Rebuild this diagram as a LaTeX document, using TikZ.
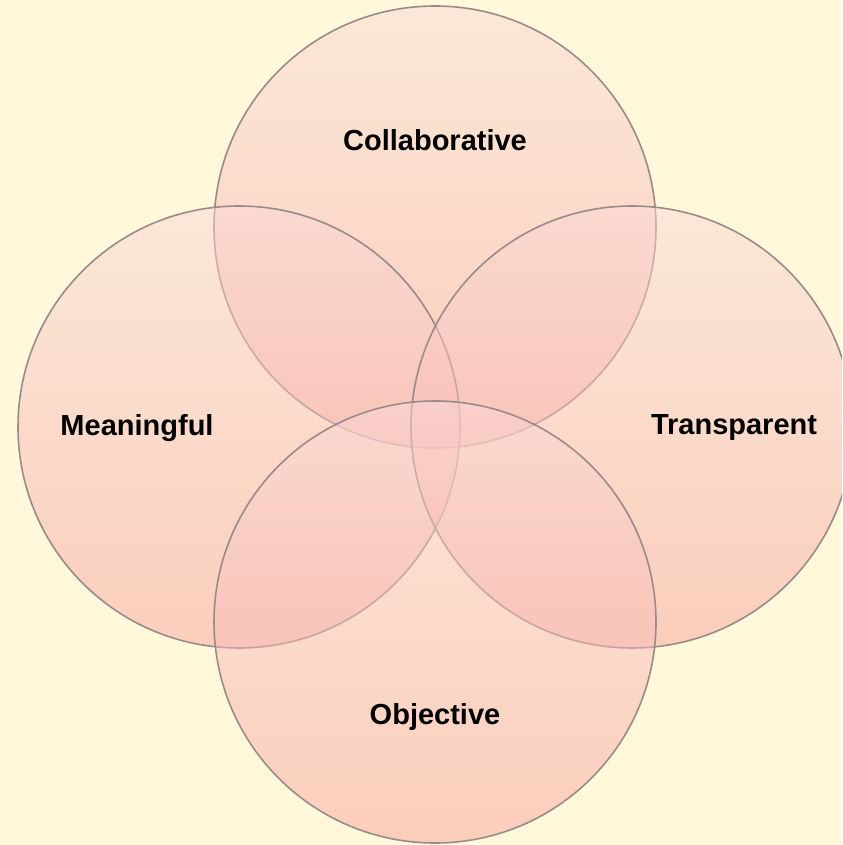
\documentclass[tikz,border=0pt]{standalone}
\usepackage{fontspec}
\setmainfont{Liberation Sans}
\definecolor{bgc}{HTML}{FFF8DB}
\definecolor{ctop}{RGB}{249,216,214}
\definecolor{cbot}{RGB}{249,164,158}
\definecolor{edge}{HTML}{9A8A88}
\tikzset{
  venn/.style={top color=ctop, bottom color=cbot, fill opacity=0.5, draw=edge, draw opacity=1, line width=0.8},
  lbl/.style={font=\bfseries\fontsize{14.5}{17}\selectfont, text=black}
}
\begin{document}
\begin{tikzpicture}[x=0.5pt,y=-0.5pt]
\fill[bgc] (0,0) rectangle (842,845);
\useasboundingbox (0,0) rectangle (842,845);
\clip (0,0) rectangle (842,845);
\shade[venn] (435,227) circle (221);
\shade[venn] (239,427) circle (221);
\shade[venn] (632,427) circle (221);
\shade[venn] (435,622) circle (221);
\node[lbl] (col) at (435,140) {Collaborative};
\node[lbl] (mea) at (137,428) {Meaningful};
\node[lbl] (tra) at (734,428) {Transparent};
\node[lbl] (obj) at (435,717) {Objective};
\end{tikzpicture}
\end{document}
